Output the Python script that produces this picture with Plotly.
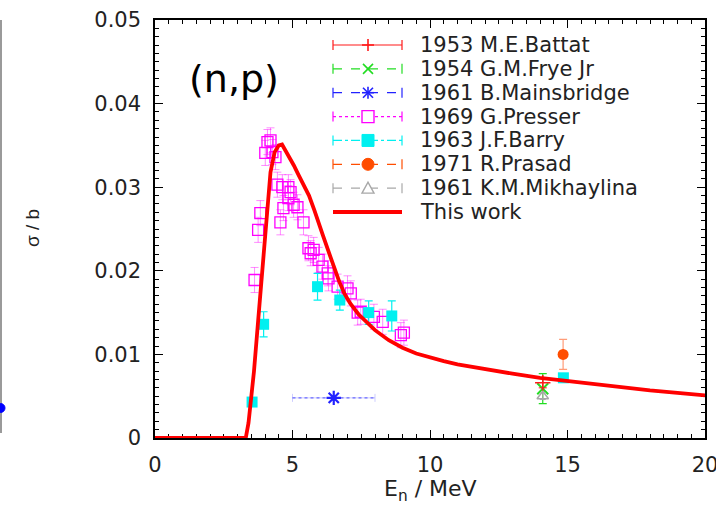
import plotly.graph_objects as go

# ---------------- data ----------------
curve_E = [0, 3.30, 3.40, 3.50, 3.60, 3.75, 3.90, 4.05, 4.20, 4.35, 4.50, 4.62, 4.75, 4.90,
           5.05, 5.20, 5.40, 5.60, 5.80, 5.95, 6.10, 6.30, 6.50, 6.70, 6.90, 7.10, 7.40, 7.70,
           8.00, 8.50, 9.00, 9.50, 10.0, 10.5, 11.0, 12.0, 13.0, 14.0, 15.0, 16.0, 17.0, 18.0, 19.0, 20.0]
curve_S = [0, 0, 0.0018, 0.0050, 0.0080, 0.0140, 0.0200, 0.0262, 0.0318, 0.0342, 0.0350, 0.0351,
           0.0344, 0.0335, 0.0326, 0.0316, 0.0303, 0.0290, 0.0272, 0.0259, 0.0243, 0.0224, 0.0205,
           0.0187, 0.0172, 0.0161, 0.0148, 0.0138, 0.0129, 0.0117, 0.0108, 0.0101, 0.0096, 0.0092,
           0.0088, 0.0082, 0.0077, 0.0072, 0.0068, 0.0064, 0.0060, 0.0057, 0.0054, 0.0051]

battat_E, battat_S, battat_err = [14.1], [0.0066], [0.0006]
frye_E, frye_S, frye_err = [14.1], [0.0059], [0.0018]
mains_E, mains_S, mains_xerr = [6.5], [0.0048], [1.5]
presser_E = [3.62, 3.75, 3.83, 4.01, 4.09, 4.20, 4.27, 4.38, 4.45, 4.56, 4.63, 4.67, 4.85, 4.85,
             4.93, 5.04, 5.18, 5.40, 5.58, 5.66, 5.77, 5.95, 6.09, 6.28, 6.31, 6.64, 7.00, 7.12,
             7.37, 7.48, 7.96, 8.28, 8.94, 9.05]
presser_S = [0.0189, 0.0249, 0.0269, 0.0341, 0.0354, 0.0356, 0.0342, 0.0336, 0.0303, 0.0258,
             0.0300, 0.0275, 0.0300, 0.0287, 0.0294, 0.0279, 0.0276, 0.0258, 0.0227, 0.0221,
             0.0225, 0.0213, 0.0205, 0.0197, 0.0191, 0.0181, 0.0179, 0.0173, 0.0150, 0.0151,
             0.0145, 0.0139, 0.0123, 0.0126]
presser_err = 0.0015
barry_E = [3.53, 3.95, 5.91, 6.72, 7.77, 8.61, 14.85]
barry_S = [0.0043, 0.0136, 0.0181, 0.0165, 0.0150, 0.0146, 0.0072]
barry_err = [0.0004, 0.0015, 0.0016, 0.0012, 0.0014, 0.0018, 0.0005]
prasad_E, prasad_S, prasad_err = [14.84], [0.0100], [0.0018]
mikh_E, mikh_S, mikh_err = [14.1], [0.0050], [0.0004]

legend_names = ["1953 M.E.Battat", "1954 G.M.Frye Jr", "1961 B.Mainsbridge", "1969 G.Presser",
                "1963 J.F.Barry", "1971 R.Prasad", "1961 K.M.Mikhaylina", "This work"]
x_ticks = [0, 5, 10, 15, 20]
y_ticks = [0, 0.01, 0.02, 0.03, 0.04, 0.05]

# ---------------- styles ----------------
C_BATTAT = "#ff1a1a"
C_FRYE = "#22dd22"
C_MAINS = "#2222ff"
C_PRESSER = "#ff00ff"
C_BARRY = "#00f0f0"
C_PRASAD = "#ff4d00"
C_MIKH = "#a8a8a8"
C_WORK = "#ff0000"

legend_colors = [C_BATTAT, C_FRYE, C_MAINS, C_PRESSER, C_BARRY, C_PRASAD, C_MIKH, C_WORK]
legend_dash = ["solid", "dash", "dash", "dot", "dashdot", "dash", "dash", "solid"]
legend_mark = ["plus", "x", "star", "sqopen", "sq", "circle", "tri", None]

FONT = "DejaVu Sans, Liberation Sans, Arial, sans-serif"

fig = go.Figure()

fig.add_trace(go.Scatter(x=presser_E, y=presser_S, mode="markers", name=legend_names[3],
                         marker=dict(symbol="square-open", size=11, color=C_PRESSER,
                                     line=dict(width=1.3, color=C_PRESSER)),
                         error_y=dict(type="constant", value=presser_err, color="rgba(255,0,255,0.45)",
                                      thickness=1, width=4)))
fig.add_trace(go.Scatter(x=barry_E, y=barry_S, mode="markers", name=legend_names[4],
                         marker=dict(symbol="square", size=11, color=C_BARRY),
                         error_y=dict(type="data", array=barry_err, color=C_BARRY, thickness=1.2, width=4)))
# horizontal energy-range bar of Mainsbridge, dashed as in the original
fig.add_trace(go.Scatter(x=[mains_E[0] - mains_xerr[0], mains_E[0] + mains_xerr[0]],
                         y=[mains_S[0], mains_S[0]], mode="lines", showlegend=False, hoverinfo="skip",
                         line=dict(color="rgba(70,70,255,0.75)", width=1.4, dash="dot")))
fig.add_trace(go.Scatter(x=mains_E, y=mains_S, mode="markers", name=legend_names[2],
                         marker=dict(symbol="asterisk-open", size=12, color=C_MAINS,
                                     line=dict(width=2.2, color=C_MAINS)),
                         error_x=dict(type="data", array=mains_xerr, color="rgba(60,60,255,0.25)",
                                      thickness=1, width=4)))
fig.add_trace(go.Scatter(x=frye_E, y=frye_S, mode="markers", name=legend_names[1],
                         marker=dict(symbol="x-thin-open", size=11, color=C_FRYE,
                                     line=dict(width=2, color=C_FRYE)),
                         error_y=dict(type="data", array=frye_err, color=C_FRYE, thickness=1.2, width=4)))
fig.add_trace(go.Scatter(x=mikh_E, y=mikh_S, mode="markers", name=legend_names[6],
                         marker=dict(symbol="triangle-up-open", size=10, color=C_MIKH,
                                     line=dict(width=1.5, color=C_MIKH)),
                         error_y=dict(type="data", array=mikh_err, color=C_MIKH, thickness=1, width=3)))
fig.add_trace(go.Scatter(x=battat_E, y=battat_S, mode="markers", name=legend_names[0],
                         marker=dict(symbol="cross-thin-open", size=11, color=C_BATTAT,
                                     line=dict(width=1.5, color=C_BATTAT)),
                         error_y=dict(type="data", array=battat_err, color=C_BATTAT, thickness=1, width=4)))
fig.add_trace(go.Scatter(x=prasad_E, y=prasad_S, mode="markers", name=legend_names[5],
                         marker=dict(symbol="circle", size=11, color=C_PRASAD),
                         error_y=dict(type="data", array=prasad_err, color="rgba(255,90,30,0.6)",
                                      thickness=1.2, width=4)))
fig.add_trace(go.Scatter(x=curve_E, y=curve_S, mode="lines", name=legend_names[7],
                         line=dict(color=C_WORK, width=3.8)))

# ---------------- manual legend (gnuplot style) ----------------
PX0, PW, PY0, PH = 155, 550, 20, 418


def xp(px):
    return (px - PX0) / PW


def yp(py):
    return (PY0 + PH - py) / PH


shapes = []
annotations = []
row0, row_step = 45, 23.86
lx0, lx1, mx, tx = 333, 402, 368, 418
for i, name in enumerate(legend_names):
    ry = row0 + i * row_step
    col = legend_colors[i]
    is_work = legend_mark[i] is None
    shapes.append(dict(type="line", xref="paper", yref="paper", x0=xp(lx0), x1=xp(lx1),
                       y0=yp(ry), y1=yp(ry),
                       line=dict(color=col, width=3.8 if is_work else 1.2, dash=legend_dash[i])))
    if not is_work:
        for ex in (lx0, lx1):
            shapes.append(dict(type="line", xref="paper", yref="paper", x0=xp(ex), x1=xp(ex),
                               y0=yp(ry - 5), y1=yp(ry + 5), line=dict(color=col, width=1.2)))
        m = legend_mark[i]
        h = 6
        if m in ("plus", "star"):
            shapes.append(dict(type="line", xref="paper", yref="paper", x0=xp(mx - h), x1=xp(mx + h),
                               y0=yp(ry), y1=yp(ry), line=dict(color=col, width=1.6)))
            shapes.append(dict(type="line", xref="paper", yref="paper", x0=xp(mx), x1=xp(mx),
                               y0=yp(ry - h), y1=yp(ry + h), line=dict(color=col, width=1.6)))
        if m in ("x", "star"):
            d = 5
            shapes.append(dict(type="line", xref="paper", yref="paper", x0=xp(mx - d), x1=xp(mx + d),
                               y0=yp(ry - d), y1=yp(ry + d), line=dict(color=col, width=1.6)))
            shapes.append(dict(type="line", xref="paper", yref="paper", x0=xp(mx - d), x1=xp(mx + d),
                               y0=yp(ry + d), y1=yp(ry - d), line=dict(color=col, width=1.6)))
        if m == "sqopen":
            shapes.append(dict(type="rect", xref="paper", yref="paper", x0=xp(mx - 6), x1=xp(mx + 6),
                               y0=yp(ry - 6), y1=yp(ry + 6), line=dict(color=col, width=1.4),
                               fillcolor="white"))
        if m == "sq":
            shapes.append(dict(type="rect", xref="paper", yref="paper", x0=xp(mx - 6), x1=xp(mx + 6),
                               y0=yp(ry - 6), y1=yp(ry + 6), line=dict(color=col, width=1),
                               fillcolor=col))
        if m == "circle":
            shapes.append(dict(type="circle", xref="paper", yref="paper", x0=xp(mx - 6), x1=xp(mx + 6),
                               y0=yp(ry - 6), y1=yp(ry + 6), line=dict(color=col, width=1),
                               fillcolor=col))
        if m == "tri":
            path = "M {:.5f} {:.5f} L {:.5f} {:.5f} L {:.5f} {:.5f} Z".format(
                xp(mx - 6), yp(ry + 5), xp(mx + 6), yp(ry + 5), xp(mx), yp(ry - 6))
            shapes.append(dict(type="path", xref="paper", yref="paper", path=path,
                               line=dict(color=col, width=1.4), fillcolor="white"))
    annotations.append(dict(text=name, xref="paper", yref="paper", x=xp(tx), y=yp(ry),
                            xanchor="left", yanchor="middle", showarrow=False,
                            font=dict(family=FONT, size=21, color="#222222")))

# panel label
annotations.append(dict(text="(n,p)", xref="paper", yref="paper", x=xp(234), y=yp(79),
                        xanchor="center", yanchor="middle", showarrow=False,
                        font=dict(family=FONT, size=38, color="#000000")))
# y title (rotated)
annotations.append(dict(text="σ / b", xref="paper", yref="paper", x=xp(32), y=yp(228),
                        xanchor="center", yanchor="middle", showarrow=False, textangle=-90,
                        font=dict(family="Liberation Sans, Arial, sans-serif", size=19, color="#222222")))
# x title
annotations.append(dict(text="E<sub>n</sub> / MeV", xref="paper", yref="paper", x=xp(430), y=yp(490),
                        xanchor="center", yanchor="middle", showarrow=False,
                        font=dict(family=FONT, size=22, color="#222222")))

# neighbouring-panel edge visible at the far left of the crop
shapes.append(dict(type="line", xref="paper", yref="paper", x0=xp(1), x1=xp(1), y0=yp(20), y1=yp(433),
                   line=dict(color="#9a9a9a", width=2)))
shapes.append(dict(type="circle", xref="paper", yref="paper", x0=xp(-4), x1=xp(5), y0=yp(403.5), y1=yp(412.5),
                   line=dict(color="#0000ff", width=1), fillcolor="#0000ff"))

axis_common = dict(showgrid=False, zeroline=False, showline=True, linecolor="black", linewidth=1.5,
                   mirror="allticks", ticks="inside", ticklen=8, tickwidth=1.2, tickcolor="black",
                   tickfont=dict(family=FONT, size=21, color="#222222"), layer="below traces",
                   automargin=False, ticklabeloverflow="allow")

fig.update_xaxes(range=[0, 20], tickmode="array", tickvals=x_ticks, ticktext=[str(v) for v in x_ticks],
                 minor=dict(ticks="inside", ticklen=4, dtick=0.5, tickwidth=1, tickcolor="black"),
                 ticklabelstandoff=7, **axis_common)
fig.update_yaxes(range=[0, 0.05], tickmode="array", tickvals=y_ticks,
                 ticktext=["0", "0.01", "0.02", "0.03", "0.04", "0.05"],
                 minor=dict(ticks="inside", ticklen=4, dtick=0.001, tickwidth=1, tickcolor="black"),
                 ticklabelstandoff=8, **axis_common)

fig.update_layout(width=716, height=509, margin=dict(l=155, r=11, t=20, b=71, autoexpand=False),
                  plot_bgcolor="white", paper_bgcolor="white", showlegend=False,
                  shapes=shapes, annotations=annotations)

# remove the browser's default page margin so the figure fills the window exactly
fig.write_html("out.html", config={"displayModeBar": False},
               post_script="document.body.style.margin='0';document.body.style.overflow='hidden';")
